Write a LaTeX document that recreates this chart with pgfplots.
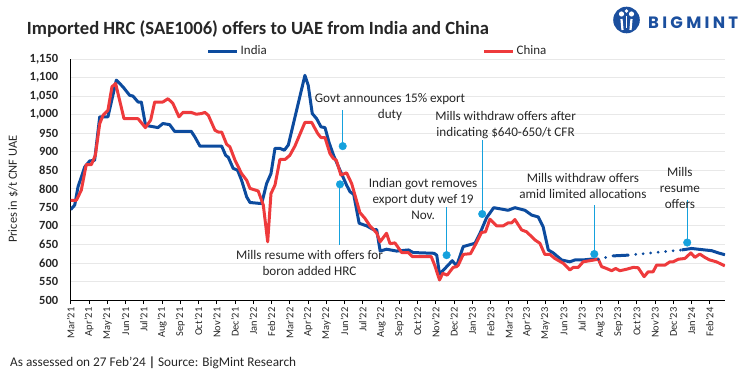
\documentclass[border=0pt]{standalone}
\usepackage{fontspec}
\setmainfont{Carlito}
\newfontfamily\logofont[LetterSpace=20]{Poppins}
\usepackage{pgfplots}
\pgfplotsset{compat=1.18}
\definecolor{indiablue}{HTML}{0C4B9E}
\definecolor{chinared}{HTML}{EE3A3C}
\definecolor{callout}{HTML}{15A1DD}
\definecolor{logoblue}{HTML}{1B4F9E}
\definecolor{txt}{HTML}{262626}
\newcommand\q{\char"27\relax}
\begin{document}
\begin{tikzpicture}[x=1bp,y=1bp]
\path[use as bounding box] (0,0) rectangle (756,378);
\node[anchor=base west, inner sep=0, font=\fontsize{18.7}{22}\selectfont\bfseries, text=txt] at (26.7,344) {Imported HRC (SAE1006) offers to UAE from India and China};
\node[anchor=base west, inner sep=0, font=\fontsize{13.3}{15}\selectfont, text=txt] at (10,12) {As assessed on 27 Feb\q24 \textbf{|} Source: BigMint Research};
% logo
\fill[logoblue] (626.5,358) circle (13.3);
\fill[white] (621.5,364) circle (2.6);
\fill[white] (631.5,364) circle (2.6);
\fill[white] (626.5,367) circle (1.8);
\draw[white, line width=2.2] (621.5,359) -- (622.5,348);
\draw[white, line width=2.2] (631.5,359) -- (630.5,348);
\draw[white, line width=1.4] (626.5,362) -- (626.5,350);
\node[anchor=base west, inner sep=0, font=\logofont\bfseries\fontsize{16.5}{18}\selectfont, text=logoblue] at (648,350) {BIGMINT};
\begin{axis}[
  at={(70.7bp,78bp)}, anchor=south west, scale only axis,
  width=654.3bp, height=241bp,
  xmin=0, xmax=35.84, ymin=500, ymax=1150,
  axis x line*=bottom, axis y line*=left,
  axis line style={black, line width=0.8bp},
  xtick={0,...,35},
  xticklabels={Mar\q21,Apr\q21,May\q21,Jun\q21,Jul\q21,Aug\q21,Sep\q21,Oct\q21,Nov\q21,Dec\q21,Jan\q22,Feb\q22,Mar\q22,Apr\q22,May\q22,Jun\q22,Jul\q22,Aug\q22,Sep\q22,Oct\q22,Nov\q22,Dec\q22,Jan\q23,Feb\q23,Mar\q23,Apr\q23,May\q23,Jun\q23,Jul\q23,Aug\q23,Sep\q23,Oct\q23,Nov\q23,Dec\q23,Jan\q24,Feb\q24},
  xticklabel style={rotate=90, anchor=east, font=\fontsize{10.5}{12}\selectfont, text=txt},
  ytick={500,550,...,1150},
  yticklabel style={font=\fontsize{12.5}{14}\selectfont\bfseries, text=txt, xshift=-5bp},
  /pgf/number format/assume math mode=true,
  /pgf/number format/1000 sep={,},
  tick align=outside, major tick length=4bp,
  x tick style={black, line width=0.8bp},
  y tick style={draw=none},
  ymajorgrids, grid style={gray!18, line width=0.8bp},
  ylabel={Prices in \$/t CNF UAE},
  ylabel style={at={(axis description cs:-0.088,0.46)}, anchor=center, font=\fontsize{12.5}{14}\selectfont, text=txt},
  legend columns=2,
  legend style={at={(axis description cs:0.469,1.033)}, anchor=center, draw=none, fill=none, font=\fontsize{13}{15}\selectfont, text=txt, /tikz/every even column/.append style={column sep=214bp}},
  legend image code/.code={\draw[#1, line width=3bp] (0bp,0bp) -- (29bp,0bp);},
  line join=round,
]
\addplot[indiablue, line width=3bp] coordinates {
(0,744)(0.22,756)(0.4,805)(0.77,859)(1.04,875)(1.31,877)(1.59,994)(2.04,994)(2.5,1093)(2.86,1075)(3.23,1052)(3.41,1050)(3.69,1034)(3.87,1034)(4.1,971)(4.78,965)(5.05,976)(5.42,973)(5.69,955)(6.6,955)(6.8,940)(7.08,915)(8.27,915)(8.49,890)(8.63,885)(8.9,855)(9.14,850)(9.36,823)(9.64,778)(9.82,763)(10.46,760)(10.73,814)(10.97,841)(11.19,909)(11.46,909)(11.7,904)(11.92,918)(12.83,1106)(13.01,1079)(13.23,1003)(13.47,989)(13.71,967)(13.93,965)(14.15,925)(14.4,890)(14.75,850)(15.11,810)(15.3,792)(15.5,785)(15.8,707)(16.21,700)(16.57,690)(16.76,690)(16.95,632)(17.3,637)(17.85,632)(18.5,635)(18.76,628)(19.9,626)(20.05,621)(20.2,570)(20.5,585)(20.9,606)(21.14,592)(21.5,644)(22.14,653)(22.42,680)(22.78,722)(23.17,749)(23.51,746)(23.96,742)(24.33,749)(24.88,742)(25.25,729)(25.61,724)(25.88,697)(26.16,635)(26.43,627)(26.89,608)(27.34,603)(27.62,608)(28.07,608)(28.44,610)(28.9,610)
};
\addlegendentry{India}
\addplot[chinared, line width=3bp] coordinates {
(0,769)(0.31,769)(0.58,796)(0.85,865)(1.13,865)(1.35,890)(1.59,976)(1.77,998)(2.04,1012)(2.26,1075)(2.46,1084)(2.92,989)(3.69,989)(4.09,965)(4.38,985)(4.6,1034)(5.05,1034)(5.33,1043)(5.6,1030)(5.93,994)(6.15,1006)(6.6,1006)(6.88,1001)(7.17,1003)(7.35,1006)(7.54,998)(7.9,958)(8.08,953)(8.27,953)(8.54,920)(8.72,913)(9.0,877)(9.36,841)(9.64,823)(9.82,801)(10.27,794)(10.55,756)(10.79,657)(10.97,787)(11.19,810)(11.46,879)(11.74,879)(12.0,890)(12.28,915)(12.83,979)(13.2,979)(13.53,949)(13.71,938)(13.93,938)(14.2,895)(14.38,882)(14.55,877)(14.8,837)(15.11,843)(15.39,814)(15.84,736)(16.12,720)(16.39,700)(16.76,681)(16.95,657)(17.3,680)(17.49,652)(17.76,654)(18.13,628)(18.49,628)(18.72,617)(19.75,617)(19.95,592)(20.2,554)(20.38,572)(20.62,567)(20.95,588)(21.14,590)(21.23,594)(21.5,623)(21.9,625)(22.23,655)(22.5,682)(22.72,684)(22.96,718)(23.33,700)(23.69,700)(23.96,708)(24.15,708)(24.33,717)(24.7,689)(24.97,684)(25.43,662)(25.7,653)(25.97,623)(26.25,623)(26.52,612)(26.98,599)(27.34,581)(27.53,588)(27.8,588)(28.07,603)(28.44,606)(28.9,610)(29.08,590)(29.35,585)(29.63,579)(29.85,585)(30.08,579)(30.45,583)(30.81,588)(31.08,587)(31.41,563)(31.63,576)(31.9,576)(32.09,594)(32.55,594)(32.82,603)(33.0,603)(33.28,610)(33.64,612)(33.97,627)(34.19,615)(34.46,624)(34.73,615)(35.0,608)(35.37,603)(35.83,592)
};
\addlegendentry{China}
\addplot[forget plot, indiablue, line width=3bp, line cap=round, dash pattern=on 0bp off 7.5bp] coordinates {(28.9,610)(29.72,619)};
\addplot[forget plot, indiablue, line width=3bp] coordinates {(29.72,619)(30.54,621)};
\addplot[forget plot, indiablue, line width=3bp, line cap=round, dash pattern=on 0bp off 7.5bp] coordinates {(30.54,621)(33.47,635)};
\addplot[forget plot, indiablue, line width=3bp] coordinates {(33.47,635)(34.01,639)(34.37,637)(35.11,633)(35.47,627)(35.84,622)};
% callouts
\draw[callout, line width=1bp] (axis cs:14.90,915) -- (axis cs:14.90,1012);
\draw[callout, line width=1bp] (axis cs:14.75,812) -- (axis cs:14.75,648);
\draw[callout, line width=1bp] (axis cs:20.59,621) -- (axis cs:20.59,751);
\draw[callout, line width=1bp] (axis cs:22.54,732) -- (axis cs:22.54,931);
\draw[callout, line width=1bp] (axis cs:28.68,624) -- (axis cs:28.68,756);
\draw[callout, line width=1bp] (axis cs:33.77,655) -- (axis cs:33.77,769);
\addplot[forget plot, only marks, mark=*, mark size=3.8bp, callout] coordinates {(14.90,915)(14.75,812)(20.59,621)(22.54,732)(28.68,624)(33.77,655)};
\begin{scope}[every node/.style={align=center, font=\fontsize{13.2}{16}\selectfont, text=txt, inner sep=0}]
\node at (axis cs:17.49,1020) {Govt announces 15\% export\\duty};
\node at (axis cs:13.08,600) {Mills resume with offers for\\boron added HRC};
\node at (axis cs:19.30,772) {Indian govt removes\\export duty wef 19\\Nov.};
\node at (axis cs:23.82,971) {Mills withdraw offers after\\indicating \$640-650/t CFR};
\node at (axis cs:28.06,807) {Mills withdraw offers\\amid limited allocations};
\node at (axis cs:33.37,802) {Mills\\resume\\offers};
\end{scope}
\end{axis}
\end{tikzpicture}
\end{document}
